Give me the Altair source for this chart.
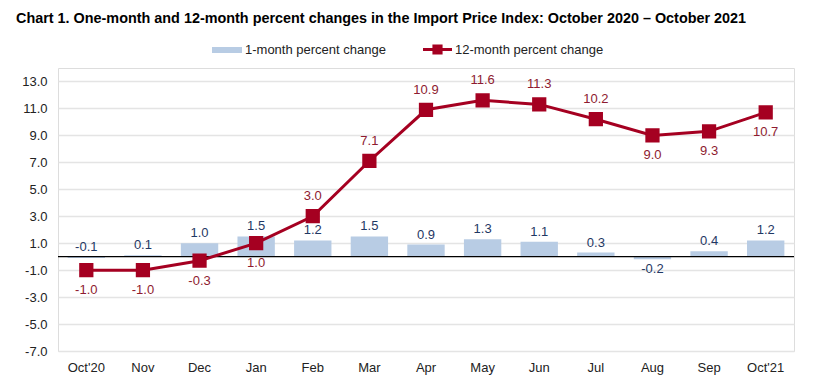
import altair as alt
import pandas as pd

months = ["Oct'20", "Nov", "Dec", "Jan", "Feb", "Mar", "Apr", "May", "Jun", "Jul", "Aug", "Sep", "Oct'21"]
one_month = [-0.1, 0.1, 1.0, 1.5, 1.2, 1.5, 0.9, 1.3, 1.1, 0.3, -0.2, 0.4, 1.2]
twelve_month = [-1.0, -1.0, -0.3, 1.0, 3.0, 7.1, 10.9, 11.6, 11.3, 10.2, 9.0, 9.3, 10.7]
y_ticks = [-7, -5, -3, -1, 1, 3, 5, 7, 9, 11, 13]
line_labels_below = ["Oct'20", "Nov", "Dec", "Jan", "Aug", "Sep", "Oct'21"]
bar_labels_below = ["Aug"]

S1 = "1-month percent change"
S2 = "12-month percent change"

df = pd.DataFrame({"month": months, "one": one_month, "twelve": twelve_month,
                   "s1": S1, "s2": S2})

BAR = "#B8CCE4"
RED = "#A50021"
RED_TXT = "#8E1B30"
BLUE_TXT = "#1F3864"
FONT = "Liberation Sans"

x = alt.X("month:N", sort=months,
          scale=alt.Scale(paddingInner=0, paddingOuter=0),
          axis=alt.Axis(title=None, labelAngle=0, labelFont=FONT, labelFontSize=13,
                        labelColor="#222", labelPadding=10, ticks=False, domain=False,
                        grid=False))
yscale = alt.Scale(domain=[-7, 14], nice=False, zero=False)
yaxis = alt.Axis(title=None, values=y_ticks, labelFont=FONT, labelFontSize=13,
                 labelExpr="replace(format(datum.value, '.1f'), '\u2212', '-')",
                 labelColor="#222", labelPadding=11, ticks=False, domain=False,
                 labelOverlap=False, grid=True, gridColor="#E4E4E4", gridWidth=1.5)

def yenc(field):
    return alt.Y(field, scale=yscale, axis=yaxis, title=None)

base = alt.Chart(df).transform_calculate(
    one_txt="replace(format(datum.one, '.1f'), '\u2212', '-')",
    twelve_txt="replace(format(datum.twelve, '.1f'), '\u2212', '-')",
    max_one="max(datum.one, 0)",
)

bars = base.mark_bar(width=alt.RelativeBandSize(0.66)).encode(
    x=x,
    y=yenc("one:Q"),
    y2=alt.datum(0),
    fill=alt.Fill("s1:N", scale=alt.Scale(domain=[S1], range=[BAR]),
                  legend=alt.Legend(title=None, orient="none", legendX=154, legendY=-33,
                                    symbolType="M-1,-0.2H1V0.2H-1Z", symbolSize=900,
                                    symbolStrokeWidth=0, labelFont=FONT,
                                    labelFontSize=13, labelColor="#222", labelOffset=3)),
)

zero = alt.Chart(pd.DataFrame({"z": [0]})).mark_rule(color="#000", strokeWidth=1.2).encode(
    y=yenc("z:Q"))

line = base.mark_line(strokeWidth=3, point=alt.OverlayMarkDef(shape="square", size=150, filled=True, color=RED, opacity=1)).encode(
    x=x,
    y=yenc("twelve:Q"),
    stroke=alt.Stroke("s2:N", scale=alt.Scale(domain=[S2], range=[RED]),
                      legend=alt.Legend(title=None, orient="none", legendX=365, legendY=-33,
                                        symbolType="M-1,-0.1H1V0.1H-1Z M-0.35,-0.35H0.35V0.35H-0.35Z",
                                        symbolSize=841, symbolFillColor=RED,
                                        symbolStrokeWidth=0, labelFont=FONT,
                                        labelFontSize=13, labelColor="#222", labelOffset=3)),
)

txt = dict(font=FONT, fontSize=13)
bar_above = base.transform_filter(
    alt.FieldOneOfPredicate(field="month", oneOf=[m for m in months if m not in bar_labels_below])
).mark_text(dy=-10, baseline="middle", color=BLUE_TXT, **txt).encode(
    x=x, y=yenc("max_one:Q"), text="one_txt:N")
bar_below = base.transform_filter(
    alt.FieldOneOfPredicate(field="month", oneOf=bar_labels_below)
).mark_text(dy=10, baseline="middle", color=BLUE_TXT, **txt).encode(
    x=x, y=yenc("one:Q"), text="one_txt:N")

line_above = base.transform_filter(
    alt.FieldOneOfPredicate(field="month", oneOf=[m for m in months if m not in line_labels_below])
).mark_text(dy=-20, baseline="middle", color=RED_TXT, **txt).encode(
    x=x, y=yenc("twelve:Q"), text="twelve_txt:N")
line_below = base.transform_filter(
    alt.FieldOneOfPredicate(field="month", oneOf=line_labels_below)
).mark_text(dy=20, baseline="middle", color=RED_TXT, **txt).encode(
    x=x, y=yenc("twelve:Q"), text="twelve_txt:N")

chart = alt.layer(bars, zero, line, bar_above, bar_below, line_above, line_below).resolve_scale(
    fill="independent", stroke="independent"
).properties(
    width=736, height=283,
    padding={"left": 8, "top": 2, "right": 5, "bottom": 5},
    title=alt.TitleParams(
        "Chart 1. One-month and 12-month percent changes in the Import Price Index: October 2020 \u2013 October 2021",
        anchor="start", frame="group", dx=-42, font=FONT, fontSize=14.4, fontWeight="bold",
        color="#000", offset=9),
).configure_view(stroke="#444", strokeWidth=1.3).configure(background="white")

chart.save("out.html", embed_options={"renderer": "svg", "actions": False})
